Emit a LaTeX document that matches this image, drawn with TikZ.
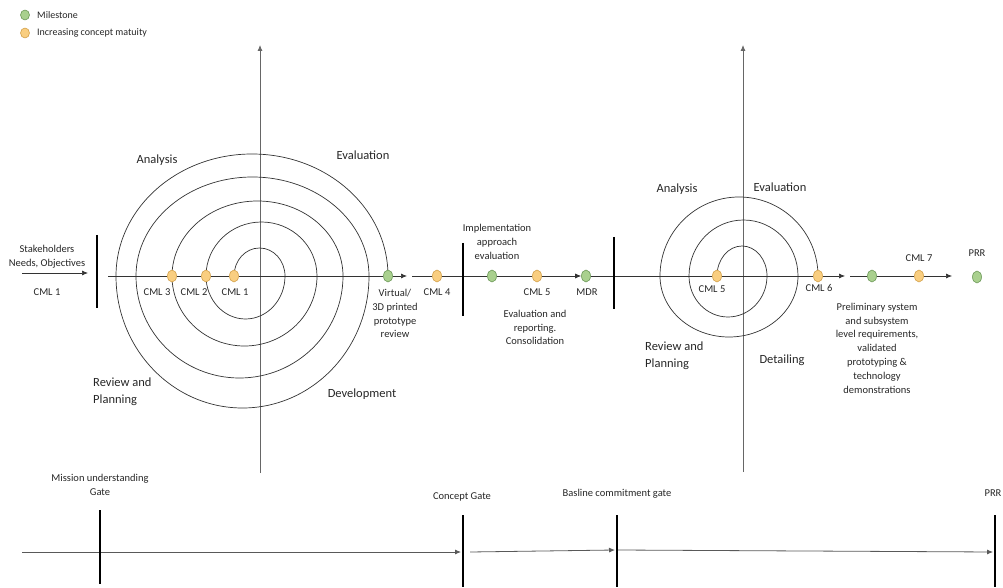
\documentclass[tikz,border=0pt]{standalone}
\usepackage{fontspec}
\setmainfont{Carlito}
\usetikzlibrary{arrows.meta,shapes.geometric,backgrounds}
\definecolor{msgreen}{HTML}{A9D08E}
\definecolor{msgreenline}{HTML}{6E9A5A}
\definecolor{cmlorange}{HTML}{F9CE80}
\definecolor{cmlorangeline}{HTML}{D4A24C}
\begin{document}
\begin{tikzpicture}[x=1pt,y=1pt,
  milestone/.style={ellipse, draw=msgreenline, fill=msgreen, line width=0.6pt,
    minimum width=9pt, minimum height=12pt, inner sep=0pt},
  maturity/.style={ellipse, draw=cmlorangeline, fill=cmlorange, line width=0.6pt,
    minimum width=9pt, minimum height=12pt, inner sep=0pt},
  axisline/.style={draw=black!80, line width=0.7pt},
  vaxis/.style={draw=black!60, line width=0.8pt},
  tline/.style={draw=black!65, line width=0.8pt},
  gate/.style={draw=black, line width=2.6pt},
  headed/.style={-{Latex[length=6pt,width=5pt]}},
  lbl/.style={font=\fontsize{10.5}{13.8}\selectfont, align=center, inner sep=0pt, text=black!85},
  phase/.style={font=\fontsize{12.5}{17}\selectfont, align=center, inner sep=0pt, text=black!85},
]
\useasboundingbox (0,0) rectangle (1003,587);

% ---------- legend ----------
\node[milestone, minimum height=10pt] (legm) at (25,572) {};
\node[lbl, anchor=west, font=\fontsize{10}{12}\selectfont] (legmt) at (37,572) {Milestone};
\node[maturity, minimum height=10pt] (lego) at (25,554) {};
\node[lbl, anchor=west, font=\fontsize{10}{12}\selectfont] (legot) at (37,554) {Increasing concept matuity};

% ---------- markers on the main axis ----------
\node[maturity]  (l3)  at (172,311) {};
\node[maturity]  (l2)  at (206,311) {};
\node[maturity]  (l1)  at (234,311) {};
\node[milestone] (g1)  at (388,311) {};
\node[maturity]  (c4)  at (437,311) {};
\node[milestone] (gI)  at (492,311) {};
\node[maturity]  (c5)  at (537,311) {};
\node[milestone] (mdr) at (586,311) {};
\node[maturity]  (r5)  at (717,311) {};
\node[maturity]  (r6)  at (818,311) {};
\node[milestone] (g2)  at (872,311) {};
\node[maturity]  (c7)  at (919,311) {};
\node[milestone] (prr) at (977,310) {};

% free ends of connectors
\coordinate (sh0) at (22,314);
\coordinate (sh1) at (88,314);
\coordinate (lstart) at (108,311);
\coordinate (lend) at (407,311);
\coordinate (mstart) at (412,311);
\coordinate (rend) at (845,311);
\coordinate (rstart) at (850,311);
\coordinate (rend2) at (952,311);
\coordinate (lvb) at (260,114);
\coordinate (lvt) at (260,542);
\coordinate (rvb) at (743,115);
\coordinate (rvt) at (743,542);

\begin{scope}[on background layer]
  % vertical axes
  \draw[vaxis, headed] (lvb) -- (lvt);
  \draw[vaxis, headed] (rvb) -- (rvt);
  % first spiral
  \draw[axisline] (l1.center)
    arc[start angle=180, end angle=0,    x radius=25.5,  y radius=28]
    arc[start angle=0,   end angle=-180, x radius=39.5,  y radius=43]
    arc[start angle=180, end angle=0,    x radius=55.5,  y radius=54]
    arc[start angle=0,   end angle=-180, x radius=72.5,  y radius=70]
    arc[start angle=180, end angle=0,    x radius=85.5,  y radius=75]
    arc[start angle=0,   end angle=-180, x radius=103.5, y radius=102]
    arc[start angle=180, end angle=0,    x radius=116.5, y radius=99]
    arc[start angle=0,   end angle=-180, x radius=126.5, y radius=132]
    arc[start angle=180, end angle=0,    x radius=136,   y radius=122];
  % second spiral
  \draw[axisline] (r5.center)
    arc[start angle=180, end angle=0,    x radius=25,   y radius=30]
    arc[start angle=0,   end angle=-180, x radius=39,   y radius=41]
    arc[start angle=180, end angle=0,    x radius=54.5, y radius=56]
    arc[start angle=0,   end angle=-180, x radius=69,   y radius=61]
    arc[start angle=180, end angle=0,    x radius=79,   y radius=79];
\end{scope}

% horizontal axis connectors
\draw[axisline, headed] (sh0) -- (sh1);
\draw[axisline] (lstart) -- (l3) -- (l2) -- (l1) -- (g1);
\draw[axisline, headed] (g1) -- (lend);
\draw[axisline] (mstart) -- (c4) -- (gI) -- (c5);
\draw[axisline, headed] (c5) -- (mdr);
\draw[axisline] (mdr) -- (r5) -- (r6);
\draw[axisline, headed] (r6) -- (rend);
\draw[axisline] (rstart) -- (g2) -- (c7);
\draw[axisline, headed] (c7) -- (rend2);

% gates on the main axis
\coordinate (bA1) at (97,352);  \coordinate (bA2) at (97,279);
\coordinate (bB1) at (463,344); \coordinate (bB2) at (463,271);
\coordinate (bC1) at (614,350); \coordinate (bC2) at (614,278);
\draw[gate] (bA1) -- (bA2);
\draw[gate] (bB1) -- (bB2);
\draw[gate] (bC1) -- (bC2);

% ---------- labels, first spiral ----------
\node[lbl] (stk) at (47,330) {Stakeholders\\Needs, Objectives};
\node[lbl] (stkc) at (47,295) {CML 1};
\node[lbl] (l3t) at (157,295) {CML 3};
\node[lbl] (l2t) at (194,295) {CML 2};
\node[lbl] (l1t) at (235,295) {CML 1};
\node[phase] (ana1) at (157,427) {Analysis};
\node[phase] (eva1) at (363,432) {Evaluation};
\node[phase, anchor=west, align=left] (rev1) at (93,195) {Review and\\Planning};
\node[phase] (dev1) at (362,193) {Development};
\node[lbl] (virt) at (395,273.5) {Virtual/\\3D printed\\prototype\\review};
\node[lbl] (c4t) at (437,295) {CML 4};
\node[lbl] (impl) at (497,345) {Implementation\\approach\\evaluation};
\node[lbl] (c5t) at (537,295) {CML 5};
\node[lbl] (evr) at (535,259.5) {Evaluation and\\reporting.\\Consolidation};
\node[lbl] (mdrt) at (587,295) {MDR};

% ---------- labels, second spiral ----------
\node[phase] (ana2) at (677,398) {Analysis};
\node[phase] (eva2) at (780,400) {Evaluation};
\node[phase, anchor=west, align=left] (rev2) at (645,231) {Review and\\Planning};
\node[phase] (det2) at (782,227) {Detailing};
\node[lbl] (r5t) at (712,298) {CML 5};
\node[lbl] (r6t) at (819,299) {CML 6};
\node[lbl] (c7t) at (919,329) {CML 7};
\node[lbl] (prrt) at (977,334) {PRR};
\node[lbl] (prel) at (877,239) {Preliminary system\\and subsystem\\level requirements,\\validated\\prototyping \&\\technology\\demonstrations};

% ---------- gate timeline ----------
\coordinate (t0) at (22,35);
\coordinate (t1) at (461,35);
\coordinate (t2) at (470,35);
\coordinate (t3) at (615,37);
\coordinate (t4) at (618,37);
\coordinate (t5) at (993,35);
\draw[tline, headed] (t0) -- (t1);
\draw[tline, headed] (t2) -- (t3);
\draw[tline, headed] (t4) -- (t5);
\coordinate (gA1) at (100,77);  \coordinate (gA2) at (100,3);
\coordinate (gB1) at (463,72);  \coordinate (gB2) at (463,0);
\coordinate (gC1) at (617,72);  \coordinate (gC2) at (617,0);
\coordinate (gD1) at (995,72);  \coordinate (gD2) at (995,0);
\draw[gate, line width=2.2pt] (gA1) -- (gA2);
\draw[gate, line width=2.2pt] (gB1) -- (gB2);
\draw[gate, line width=2.2pt] (gC1) -- (gC2);
\draw[gate, line width=2.2pt] (gD1) -- (gD2);
\node[lbl] (mug) at (100,102) {Mission understanding\\Gate};
\node[lbl] (cg) at (462,90) {Concept Gate};
\node[lbl] (bcg) at (617,93) {Basline commitment gate};
\node[lbl] (prrg) at (993,94) {PRR};
\end{tikzpicture}
\end{document}
